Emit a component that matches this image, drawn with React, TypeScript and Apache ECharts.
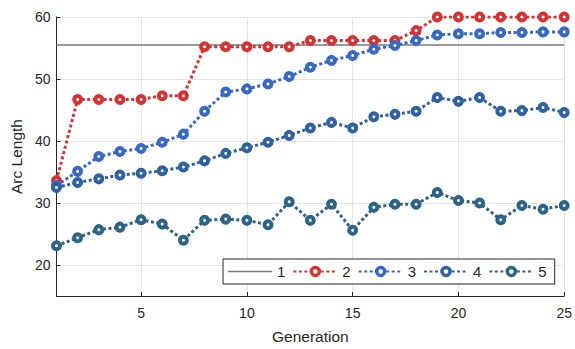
import React, { useEffect, useRef } from "react";
import * as echarts from "echarts";

const generations = [1, 2, 3, 4, 5, 6, 7, 8, 9, 10, 11, 12, 13, 14, 15, 16, 17, 18, 19, 20, 21, 22, 23, 24, 25];
const series1 = [55.5, 55.5, 55.5, 55.5, 55.5, 55.5, 55.5, 55.5, 55.5, 55.5, 55.5, 55.5, 55.5, 55.5, 55.5, 55.5, 55.5, 55.5, 55.5, 55.5, 55.5, 55.5, 55.5, 55.5, 55.5];
const series2 = [33.6, 46.7, 46.7, 46.7, 46.7, 47.3, 47.3, 55.2, 55.2, 55.2, 55.2, 55.2, 56.2, 56.2, 56.2, 56.2, 56.2, 57.8, 60, 60, 60, 60, 60, 60, 60];
const series3 = [32.8, 35.1, 37.5, 38.3, 38.8, 39.8, 41.1, 44.8, 47.9, 48.4, 49.2, 50.4, 51.9, 53.0, 53.8, 54.8, 55.4, 56.2, 57.1, 57.3, 57.3, 57.5, 57.5, 57.6, 57.6];
const series4 = [32.5, 33.3, 33.9, 34.5, 34.8, 35.2, 35.8, 36.8, 38.0, 38.9, 39.8, 40.9, 42.1, 43.0, 42.1, 43.9, 44.3, 44.8, 47.0, 46.4, 47.0, 44.8, 44.9, 45.4, 44.6];
const series5 = [23.1, 24.4, 25.7, 26.1, 27.3, 26.6, 24.0, 27.2, 27.4, 27.2, 26.5, 30.2, 27.2, 29.8, 25.6, 29.3, 29.8, 29.8, 31.7, 30.4, 30.0, 27.3, 29.6, 29.0, 29.6];
const seriesNames = ["1", "2", "3", "4", "5"];
const xTicks = [5, 10, 15, 20, 25];
const yTicks = [20, 30, 40, 50, 60];

const colors = ["#7a7a7a", "#d43333", "#3769c2", "#2f609f", "#2b6484"];
const FONT = "Liberation Sans, Arial, Helvetica, sans-serif";

function pairs(vals: number[]) {
  return generations.map((g, i) => [g, vals[i]]);
}

export default function App() {
  const ref = useRef<HTMLDivElement>(null);
  useEffect(() => {
    if (!ref.current) return;
    const chart = echarts.init(ref.current, undefined, { renderer: "svg" });
    const dotted = (name: string, vals: number[], color: string) => ({
      name,
      type: "line",
      data: pairs(vals),
      symbol: "circle",
      symbolSize: 7,
      lineStyle: { color, width: 3, type: [3, 2.5] },
      itemStyle: { color: "#ffffff", borderColor: color, borderWidth: 4 },
    });
    const legendItem = (i: number) => ({
      name: seriesNames[i],
      itemStyle: { color: "#ffffff", borderColor: colors[i], borderWidth: 3.5 },
    });
    chart.setOption({
      animation: false,
      textStyle: { fontFamily: FONT },
      grid: { left: 54, right: 8, top: 17, bottom: 50 },
      legend: {
        data: [
          { name: seriesNames[0], icon: "path://M0,0 L46,0 L46,1.5 L0,1.5 Z", itemStyle: { color: colors[0], borderWidth: 0 } },
          legendItem(1),
          legendItem(2),
          legendItem(3),
          legendItem(4),
        ],
        left: 223,
        top: 259,
        orient: "horizontal",
        itemWidth: 44,
        itemHeight: 10,
        itemGap: 7,
        padding: [5, 8, 5, 5],
        backgroundColor: "#ffffff",
        borderColor: "#262626",
        borderWidth: 1,
        borderRadius: 0,
        textStyle: { fontSize: 15, color: "#262626", fontFamily: FONT },
      },
      xAxis: {
        type: "value",
        min: 1,
        max: 25,
        name: "Generation",
        nameLocation: "middle",
        nameGap: 32,
        nameTextStyle: { fontSize: 15.5, color: "#262626", fontFamily: FONT },
        axisLine: { show: true, lineStyle: { color: "#262626", width: 1 } },
        axisTick: { show: true, inside: true, length: 4, customValues: xTicks, lineStyle: { color: "#262626" } },
        axisLabel: { customValues: xTicks, fontSize: 14, color: "#262626", margin: 10, fontFamily: FONT },
        splitLine: { show: true, lineStyle: { color: "#e3e3e3", width: 1 } },
      },
      yAxis: {
        type: "value",
        min: 15,
        max: 60,
        name: "Arc Length",
        nameLocation: "middle",
        nameGap: 31,
        nameTextStyle: { fontSize: 15.5, color: "#262626", fontFamily: FONT },
        axisLine: { show: true, lineStyle: { color: "#262626", width: 1 } },
        axisTick: { show: true, inside: true, length: 4, customValues: yTicks, lineStyle: { color: "#262626" } },
        axisLabel: { customValues: yTicks, fontSize: 14, color: "#262626", margin: 6, fontFamily: FONT },
        splitLine: { show: true, lineStyle: { color: "#e3e3e3", width: 1 } },
      },
      series: [
        {
          name: "1",
          type: "line",
          data: pairs(series1),
          showSymbol: false,
          symbol: "none",
          lineStyle: { color: colors[0], width: 1.5, type: "solid" },
          itemStyle: { color: colors[0] },
        },
        dotted("2", series2, colors[1]),
        dotted("3", series3, colors[2]),
        dotted("4", series4, colors[3]),
        dotted("5", series5, colors[4]),
      ],
    });
    return () => chart.dispose();
  }, []);
  return (
    <div
      ref={ref}
      style={{ position: "fixed", left: 0, top: 0, width: 575, height: 349, background: "#ffffff" }}
    />
  );
}
